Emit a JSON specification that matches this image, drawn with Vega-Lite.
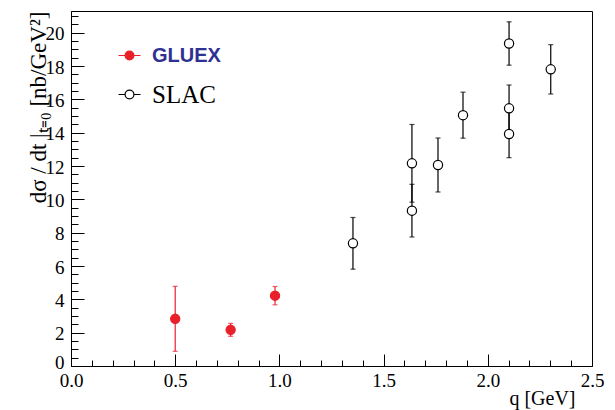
{
  "$schema": "https://vega.github.io/schema/vega-lite/v6.json",
  "autosize": {"type": "none"},
  "width": 521,
  "height": 355,
  "padding": {"left": 71, "top": 11, "right": 23, "bottom": 44},
  "background": "white",
  "config": {
    "view": {"stroke": "black", "strokeWidth": 1},
    "font": "Liberation Serif",
    "axis": {"labelFont": "Liberation Serif", "titleFont": "Liberation Serif", "labelColor": "black", "titleColor": "black", "domainColor": "black", "tickColor": "black", "grid": false, "titleFontWeight": "normal", "labelOverlap": false, "labelFlush": false}
  },
  "data": {
    "values": [
      {"series": "GlueX", "q": 0.5, "val": 2.83, "err": 1.95},
      {"series": "GlueX", "q": 0.766, "val": 2.17, "err": 0.39},
      {"series": "GlueX", "q": 0.979, "val": 4.22, "err": 0.55},
      {"series": "SLAC", "q": 1.353, "val": 7.36, "err": 1.55},
      {"series": "SLAC", "q": 1.636, "val": 12.16, "err": 2.33},
      {"series": "SLAC", "q": 1.636, "val": 9.32, "err": 1.58},
      {"series": "SLAC", "q": 1.761, "val": 12.06, "err": 1.62},
      {"series": "SLAC", "q": 1.881, "val": 15.05, "err": 1.38},
      {"series": "SLAC", "q": 2.102, "val": 19.35, "err": 1.3},
      {"series": "SLAC", "q": 2.102, "val": 15.46, "err": 1.4},
      {"series": "SLAC", "q": 2.102, "val": 13.92, "err": 1.42},
      {"series": "SLAC", "q": 2.302, "val": 17.8, "err": 1.48}
    ]
  },
  "layer": [
    {
      "mark": {"type": "errorbar", "ticks": {"size": 5}, "thickness": 1.2},
      "encoding": {
        "x": {"field": "q", "type": "quantitative", "title": "q [GeV]", "scale": {"domain": [0, 2.5], "nice": false, "zero": false}},
        "y": {"field": "val", "type": "quantitative", "title": "dσ / dt |ₜ₌₀  [nb/GeV²]", "scale": {"domain": [0, 21.3], "nice": false, "zero": false}},
        "yError": {"field": "err"},
        "color": {"field": "series", "type": "nominal", "scale": {"domain": ["GlueX", "SLAC"], "range": ["#e8202a", "black"]},
          "legend": {
          "orient": "none", "legendX": 46, "legendY": 32, "title": null,
          "symbolType": "M-1,0L-0.4,0M0.4,0L1,0M-0.4,0A0.4,0.4,0,1,1,0.4,0A0.4,0.4,0,1,1,-0.4,0Z",
          "symbolSize": 484, "symbolStrokeWidth": 1.2, "symbolOpacity": 1, "labelFont": "Liberation Serif", "labelFontSize": 25, "labelColor": "black", "rowPadding": 16, "labelOffset": 10,
          "labelExpr": "datum.value == 'GlueX' ? 'GLUEX' : datum.value",
          "encode": {
            "labels": {"update": {
              "fill": {"signal": "datum.value == 'GlueX' ? '#2e3192' : 'black'"},
              "fontWeight": {"signal": "datum.value == 'GlueX' ? 'bold' : 'normal'"},
              "font": {"signal": "datum.value == 'GlueX' ? 'Liberation Sans' : 'Liberation Serif'"},
              "fontSize": {"signal": "datum.value == 'GlueX' ? 20 : 25"}}},
            "symbols": {"update": {
              "fill": {"signal": "datum.value == 'GlueX' ? '#e8202a' : 'white'"},
              "stroke": {"signal": "datum.value == 'GlueX' ? '#e8202a' : 'black'"},
              "opacity": {"value": 1}, "fillOpacity": {"signal": "datum.value == 'GlueX' ? 1 : 0"}, "strokeOpacity": {"value": 1}}}
          }
        }}
      }
    },
    {
      "mark": {"type": "point", "shape": "circle", "size": 85, "opacity": 1, "strokeWidth": 1.2},
      "encoding": {
        "x": {"field": "q", "type": "quantitative", "title": "q [GeV]",
          "axis": {"orient": "bottom", "tickCount": 200,
            "values": [0,0.1,0.2,0.3,0.4,0.5,0.6,0.7,0.8,0.9,1,1.1,1.2,1.3,1.4,1.5,1.6,1.7,1.8,1.9,2,2.1,2.2,2.3,2.4,2.5],
            "labelExpr": "abs(datum.value*2 - round(datum.value*2)) < 0.001 ? format(datum.value, '.1f') : ''",
            "tickSize": {"condition": {"test": "abs(datum.value*2 - round(datum.value*2)) < 0.001", "value": -12}, "value": -6},
            "labelFontSize": 19, "labelPadding": 17, "labelOverlap": false, "labelFlush": false,
            "titleFontSize": 20, "titleAlign": "right", "titleBaseline": "middle", "titleX": 504, "titleY": 32}},
        "y": {"field": "val", "type": "quantitative", "title": "dσ / dt |ₜ₌₀  [nb/GeV²]",
          "axis": {"orient": "left", "tickCount": 200,
            "values": [0,0.5,1,1.5,2,2.5,3,3.5,4,4.5,5,5.5,6,6.5,7,7.5,8,8.5,9,9.5,10,10.5,11,11.5,12,12.5,13,13.5,14,14.5,15,15.5,16,16.5,17,17.5,18,18.5,19,19.5,20,20.5,21],
            "labelExpr": "datum.value % 2 == 0 ? format(datum.value, 'd') : ''",
            "tickSize": {"condition": {"test": "datum.value % 2 == 0", "value": -13}, "value": -7},
            "labelOffset": {"condition": {"test": "datum.value == 0", "value": -4}, "value": 1},
            "labelFontSize": 19, "labelPadding": 20, "labelOverlap": false,
            "titleFontSize": 23, "titleAnchor": "end", "titleBaseline": "middle", "titleX": -33}},
        "color": {"field": "series", "type": "nominal", "legend": {
          "orient": "none", "legendX": 46, "legendY": 32, "title": null,
          "symbolType": "M-1,0L-0.4,0M0.4,0L1,0M-0.4,0A0.4,0.4,0,1,1,0.4,0A0.4,0.4,0,1,1,-0.4,0Z",
          "symbolSize": 484, "symbolStrokeWidth": 1.2, "symbolOpacity": 1, "labelFont": "Liberation Serif", "labelFontSize": 25, "labelColor": "black", "rowPadding": 16, "labelOffset": 10,
          "labelExpr": "datum.value == 'GlueX' ? 'GLUEX' : datum.value",
          "encode": {
            "labels": {"update": {
              "fill": {"signal": "datum.value == 'GlueX' ? '#2e3192' : 'black'"},
              "fontWeight": {"signal": "datum.value == 'GlueX' ? 'bold' : 'normal'"},
              "font": {"signal": "datum.value == 'GlueX' ? 'Liberation Sans' : 'Liberation Serif'"},
              "fontSize": {"signal": "datum.value == 'GlueX' ? 20 : 25"}}},
            "symbols": {"update": {
              "fill": {"signal": "datum.value == 'GlueX' ? '#e8202a' : 'white'"},
              "stroke": {"signal": "datum.value == 'GlueX' ? '#e8202a' : 'black'"},
              "opacity": {"value": 1}, "fillOpacity": {"signal": "datum.value == 'GlueX' ? 1 : 0"}, "strokeOpacity": {"value": 1}}}
          }
        }},
        "fill": {"field": "series", "type": "nominal", "scale": {"domain": ["GlueX", "SLAC"], "range": ["#e8202a", "white"]}, "legend": null}
      }
    }
  ]
}
